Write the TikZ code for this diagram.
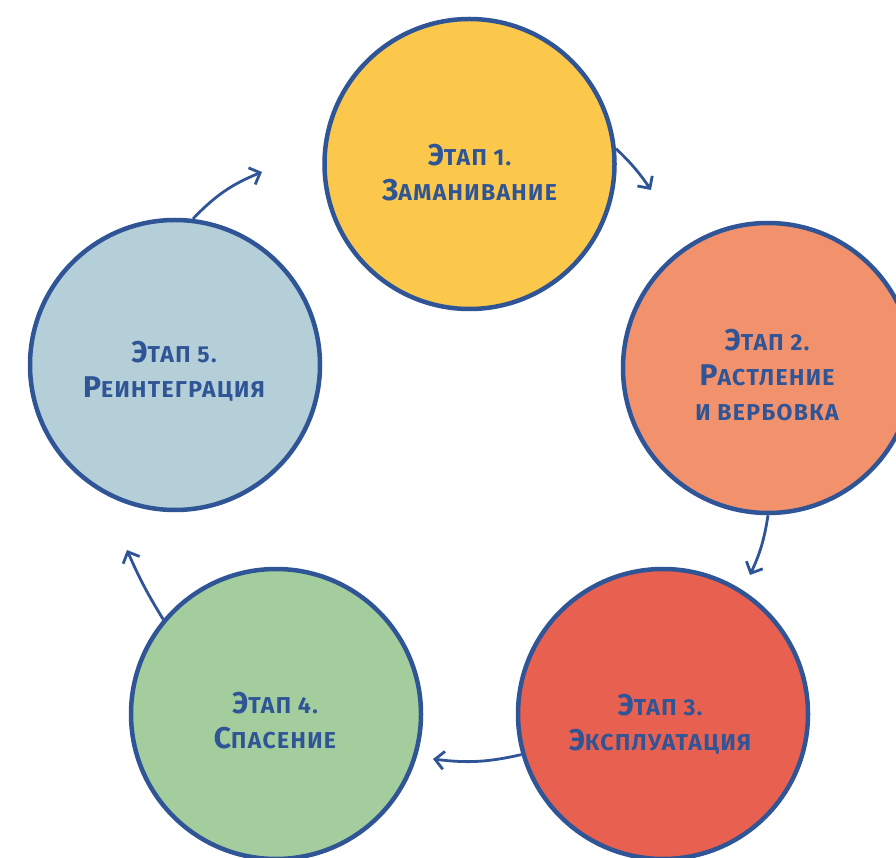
\documentclass[tikz,border=0pt]{standalone}
\usepackage{fontspec}
\setmainfont{Fira Sans}[BoldFont={Fira Sans Bold},LetterSpace=6]
\usetikzlibrary{arrows.meta}
\definecolor{navy}{HTML}{2F5597}
\definecolor{cyel}{HTML}{FBC84B}
\definecolor{corg}{HTML}{F2926C}
\definecolor{cred}{HTML}{E8604F}
\definecolor{cgrn}{HTML}{A3CD9D}
\definecolor{cblu}{HTML}{B5CFD8}
\newcommand{\capl}[1]{{\fontsize{30}{35}\selectfont #1}}
\newcommand{\sml}[1]{{\fontsize{23}{35}\selectfont #1}}
\tikzset{
  stage/.style={circle, draw=navy, line width=4.5pt, minimum size=290pt, inner sep=0pt},
  lbl/.style={text=navy, font=\fontsize{23}{35}\selectfont\bfseries, align=center},
  arr/.style={draw=navy, line width=2.8pt, -{Straight Barb[length=9pt,width=18pt,line width=2.8pt]}}
}
\begin{document}
\begin{tikzpicture}[x=1pt,y=1pt]
\useasboundingbox (0,0) rectangle (896,857);
\clip (0,0) rectangle (896,857);
\node[stage, fill=cyel] (s1) at (469.5,693) {};
\node[stage, fill=corg] (s2) at (768,489) {};
\node[stage, fill=cred] (s3) at (663,143) {};
\node[stage, fill=cgrn] (s4) at (276,143) {};
\node[stage, fill=cblu] (s5) at (175,492) {};
\node[lbl] (t1) at (469.5,684) {\capl{Э}\sml{ТАП 1.}\\\capl{З}\sml{АМАНИВАНИЕ}};
\node[lbl] (t2) at (767,482) {\capl{Э}\sml{ТАП 2.}\\\capl{Р}\sml{АСТЛЕНИЕ}\\\sml{И ВЕРБОВКА}};
\node[lbl] (t3) at (660,133) {\capl{Э}\sml{ТАП 3.}\\\capl{Э}\sml{КСПЛУАТАЦИЯ}};
\node[lbl] (t4) at (275,136) {\capl{Э}\sml{ТАП 4.}\\\capl{С}\sml{ПАСЕНИЕ}};
\node[lbl] (t5) at (174,486) {\capl{Э}\sml{ТАП 5.}\\\capl{Р}\sml{ЕИНТЕГРАЦИЯ}};
\coordinate (e1) at (651,667);
\coordinate (e2) at (750,282);
\coordinate (e3) at (433,98);
\coordinate (e4) at (127,307);
\coordinate (e5) at (262,685);
\draw[arr] (s1.6) to[bend left=6] (e1);
\draw[arr] (s2.-90) to[bend left=8] (e2);
\draw[arr] (s3.196) to[bend left=10] (e3);
\draw[arr] (s4.140) to[bend left=4] (e4);
\draw[arr] (s5.83) to[bend left=12] (e5);
\end{tikzpicture}
\end{document}
